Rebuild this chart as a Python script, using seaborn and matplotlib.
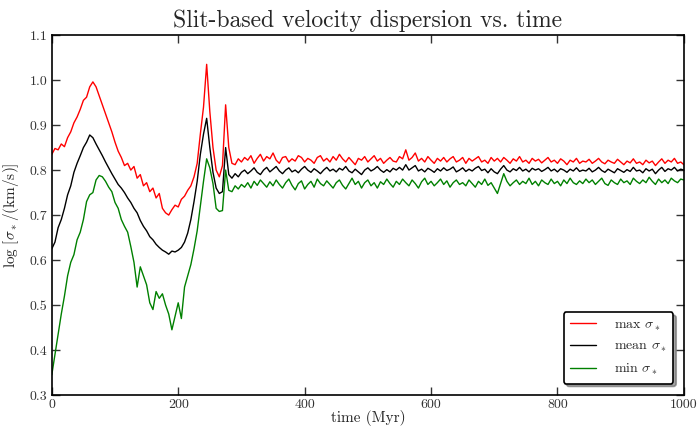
import numpy as np
import pandas as pd
import matplotlib
matplotlib.use("Agg")
import matplotlib.pyplot as plt
import seaborn as sns
from matplotlib.lines import Line2D

step = 5
max_sigma = [
    0.835, 0.848, 0.845, 0.858, 0.852, 0.872, 0.885, 0.905, 0.918, 0.935,
    0.955, 0.962, 0.985, 0.996, 0.985, 0.965, 0.945, 0.925, 0.905, 0.885,
    0.862, 0.842, 0.828, 0.810, 0.815, 0.800, 0.808, 0.782, 0.790, 0.765,
    0.772, 0.752, 0.760, 0.738, 0.748, 0.715, 0.705, 0.700, 0.712, 0.722,
    0.718, 0.735, 0.742, 0.755, 0.765, 0.785, 0.815, 0.880, 0.940, 1.035,
    0.930, 0.850, 0.800, 0.785, 0.810, 0.945, 0.850, 0.815, 0.812, 0.825,
    0.818, 0.828, 0.822, 0.832, 0.815, 0.826, 0.835, 0.820, 0.830, 0.825,
    0.838, 0.822, 0.815, 0.828, 0.830, 0.818, 0.825, 0.820, 0.832, 0.828,
    0.818, 0.826, 0.822, 0.815, 0.828, 0.832, 0.820, 0.826, 0.818, 0.830,
    0.822, 0.835, 0.825, 0.818, 0.828, 0.820, 0.812, 0.826, 0.822, 0.830,
    0.818, 0.825, 0.832, 0.820, 0.826, 0.815, 0.822, 0.828, 0.820, 0.818,
    0.830, 0.825, 0.845, 0.822, 0.828, 0.838, 0.820, 0.826, 0.818, 0.830,
    0.822, 0.815, 0.826, 0.820, 0.828, 0.818, 0.825, 0.830, 0.818, 0.822,
    0.828, 0.815, 0.826, 0.820, 0.825, 0.830, 0.818, 0.822, 0.815, 0.828,
    0.820, 0.826, 0.818, 0.828, 0.822, 0.815, 0.825, 0.820, 0.830, 0.818,
    0.822, 0.815, 0.826, 0.820, 0.824, 0.816, 0.822, 0.828, 0.818, 0.822,
    0.815, 0.825, 0.820, 0.812, 0.822, 0.818, 0.826, 0.815, 0.820, 0.818,
    0.824, 0.815, 0.820, 0.826, 0.818, 0.814, 0.822, 0.818, 0.815, 0.824,
    0.818, 0.812, 0.820, 0.816, 0.825, 0.815, 0.818, 0.812, 0.822, 0.816,
    0.820, 0.810, 0.818, 0.825, 0.815, 0.822, 0.818, 0.826, 0.815, 0.818,
    0.812,
]
mean_sigma = [
    0.625, 0.640, 0.672, 0.690, 0.715, 0.745, 0.765, 0.795, 0.815, 0.832,
    0.850, 0.862, 0.878, 0.872, 0.858, 0.845, 0.832, 0.818, 0.805, 0.792,
    0.780, 0.768, 0.760, 0.750, 0.738, 0.728, 0.715, 0.705, 0.688, 0.675,
    0.665, 0.652, 0.645, 0.635, 0.628, 0.622, 0.618, 0.613, 0.620, 0.618,
    0.622, 0.628, 0.640, 0.660, 0.690, 0.730, 0.775, 0.835, 0.880, 0.915,
    0.850, 0.795, 0.760, 0.748, 0.752, 0.850, 0.790, 0.782, 0.792, 0.785,
    0.795, 0.800, 0.792, 0.798, 0.805, 0.795, 0.790, 0.800, 0.806, 0.796,
    0.802, 0.808, 0.798, 0.792, 0.800, 0.805, 0.796, 0.800, 0.794, 0.802,
    0.808, 0.800, 0.795, 0.803, 0.798, 0.792, 0.800, 0.806, 0.798, 0.802,
    0.796, 0.804, 0.800, 0.808, 0.798, 0.794, 0.802, 0.796, 0.790, 0.800,
    0.805, 0.798, 0.802, 0.808, 0.800, 0.795, 0.801, 0.796, 0.804, 0.800,
    0.806, 0.800, 0.812, 0.800, 0.805, 0.810, 0.798, 0.802, 0.796, 0.804,
    0.800, 0.795, 0.803, 0.798, 0.805, 0.799, 0.802, 0.807, 0.796, 0.800,
    0.805, 0.797, 0.802, 0.798, 0.804, 0.808, 0.799, 0.802, 0.794, 0.803,
    0.796, 0.792, 0.802, 0.810, 0.800, 0.796, 0.803, 0.799, 0.806, 0.798,
    0.802, 0.796, 0.804, 0.800, 0.803, 0.797, 0.801, 0.806, 0.798, 0.802,
    0.796, 0.803, 0.800, 0.795, 0.802, 0.798, 0.805, 0.797, 0.800, 0.798,
    0.804, 0.796, 0.800, 0.806, 0.799, 0.795, 0.802, 0.798, 0.794, 0.803,
    0.799, 0.795, 0.801, 0.797, 0.806, 0.798, 0.800, 0.794, 0.803, 0.798,
    0.802, 0.792, 0.800, 0.806, 0.797, 0.803, 0.800, 0.806, 0.798, 0.802,
    0.800,
]
min_sigma = [
    0.345, 0.390, 0.435, 0.480, 0.520, 0.565, 0.595, 0.612, 0.645, 0.662,
    0.690, 0.730, 0.745, 0.750, 0.778, 0.788, 0.785, 0.775, 0.762, 0.752,
    0.728, 0.715, 0.690, 0.675, 0.662, 0.630, 0.595, 0.540, 0.585, 0.565,
    0.545, 0.505, 0.490, 0.530, 0.515, 0.525, 0.500, 0.480, 0.445, 0.475,
    0.505, 0.470, 0.540, 0.565, 0.590, 0.625, 0.665, 0.720, 0.775, 0.825,
    0.805, 0.770, 0.715, 0.708, 0.710, 0.800, 0.755, 0.752, 0.765, 0.758,
    0.768, 0.762, 0.772, 0.760, 0.775, 0.766, 0.778, 0.770, 0.762, 0.774,
    0.765, 0.778, 0.768, 0.760, 0.772, 0.780, 0.766, 0.756, 0.770, 0.776,
    0.758, 0.768, 0.775, 0.762, 0.780, 0.770, 0.765, 0.776, 0.768, 0.760,
    0.772, 0.778, 0.766, 0.758, 0.770, 0.782, 0.768, 0.775, 0.760, 0.772,
    0.778, 0.765, 0.772, 0.760, 0.774, 0.768, 0.780, 0.770, 0.762, 0.775,
    0.768, 0.780, 0.772, 0.765, 0.778, 0.770, 0.760, 0.774, 0.782, 0.768,
    0.775, 0.765, 0.772, 0.780, 0.768, 0.776, 0.762, 0.772, 0.778, 0.768,
    0.772, 0.765, 0.778, 0.770, 0.762, 0.775, 0.768, 0.780, 0.766, 0.772,
    0.760, 0.748, 0.770, 0.792, 0.775, 0.765, 0.772, 0.778, 0.768, 0.775,
    0.770, 0.782, 0.768, 0.775, 0.765, 0.778, 0.772, 0.768, 0.780, 0.770,
    0.775, 0.765, 0.778, 0.770, 0.782, 0.772, 0.768, 0.776, 0.770, 0.780,
    0.772, 0.778, 0.768, 0.775, 0.782, 0.770, 0.766, 0.778, 0.772, 0.768,
    0.780, 0.772, 0.776, 0.768, 0.782, 0.775, 0.770, 0.778, 0.772, 0.784,
    0.775, 0.768, 0.780, 0.772, 0.778, 0.770, 0.782, 0.776, 0.772, 0.780,
    0.778,
]
series_labels = [r"max $\sigma_*$", r"mean $\sigma_*$", r"min $\sigma_*$"]
series_colors = ["#ff0000", "#000000", "#008000"]
x_ticks = [0, 200, 400, 600, 800, 1000]
y_ticks = [0.3, 0.4, 0.5, 0.6, 0.7, 0.8, 0.9, 1.0, 1.1]

time = np.arange(len(max_sigma)) * step
frames = []
for lab, vals in zip(series_labels, [max_sigma, mean_sigma, min_sigma]):
    frames.append(pd.DataFrame({"time": time[:len(vals)], "value": vals, "series": lab}))
df = pd.concat(frames, ignore_index=True)

sns.set_style("ticks")
plt.rcParams["font.family"] = ["cmr10", "DejaVu Serif"]
plt.rcParams["mathtext.fontset"] = "cm"
plt.rcParams["axes.formatter.use_mathtext"] = True
plt.rcParams["axes.unicode_minus"] = False

fig = plt.figure(figsize=(7.0, 4.28), dpi=100)
ax = fig.add_axes([0.074, 0.077, 0.903, 0.841])
sns.lineplot(data=df, x="time", y="value", hue="series",
             palette=dict(zip(series_labels, series_colors)),
             linewidth=1.0, ax=ax, legend=False)

ax.set_xlim(0, 1000)
ax.set_ylim(0.3, 1.1)
ax.set_xticks(x_ticks)
ax.set_yticks(y_ticks)
ax.set_xticklabels([str(v) for v in x_ticks])
ax.set_yticklabels([f"{v:.1f}" for v in y_ticks])
ax.tick_params(direction="in", top=True, right=True, length=6, width=1,
               labelsize=10, colors="#333333", labelcolor="#333333", pad=3)
for s in ax.spines.values():
    s.set_linewidth(1.2)
    s.set_color("black")
ax.set_xlabel("time (Myr)", fontsize=11, labelpad=-1)
ax.set_ylabel(r"$\log\,[\sigma_*/(\mathrm{km/s})]$", fontsize=11, labelpad=6)
ax.set_title("Slit-based velocity dispersion vs. time", fontsize=17, pad=6)

handles = [Line2D([], [], color=c, lw=1.0) for c in series_colors]
leg = ax.legend(handles, series_labels, loc="lower right", fancybox=True,
                shadow=True, fontsize=10, handlelength=1.9, handletextpad=1.3,
                borderpad=0.45, labelspacing=0.55, borderaxespad=0.3,
                bbox_to_anchor=(0.99, 0.02))
leg.get_frame().set_edgecolor("black")
leg.get_frame().set_linewidth(1.2)
leg.get_frame().set_alpha(1.0)

fig.savefig("out.png", dpi=100)
